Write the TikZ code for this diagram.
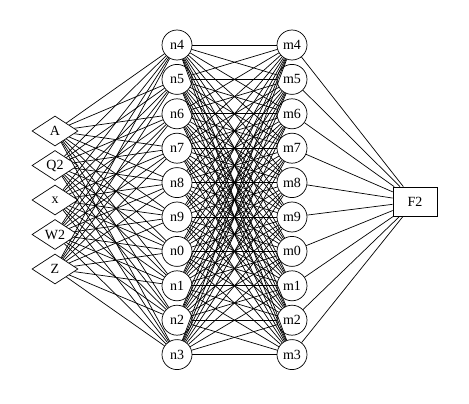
\documentclass[tikz,border=0pt]{standalone}
\usepackage{fontspec}
\setmainfont{Liberation Serif}
\usetikzlibrary{shapes.geometric}

\begin{document}
\begin{tikzpicture}[x=1pt,y=-1pt,line width=0.7pt,
		every node/.style={font=\fontsize{14}{16}\selectfont},
		unit/.style={draw, circle, minimum size=30pt, inner sep=0pt},
		inp/.style={draw, diamond, aspect=1.5, minimum width=46pt, minimum height=30pt, inner sep=0pt},
		outp/.style={draw, rectangle, minimum width=44pt, minimum height=29pt, inner sep=0pt}]
		\useasboundingbox (0,0) rectangle (469,404);
		% input layer
		\foreach \lab [count=\k from 0] in {A,Q2,x,W2,Z}
			\node[inp] (in\k) at (55,131+34.5*\k) {\lab};
		% hidden layers
		\foreach \lab [count=\k from 0] in {4,5,6,7,8,9,0,1,2,3} {
			\node[unit] (n\k) at (177,45+34.4*\k) {n\lab};
			\node[unit] (m\k) at (292,45+34.4*\k) {m\lab};
		}
		% output
		\node[outp] (F2) at (415,201.5) {F2};
		% connections
		\foreach \i in {0,...,4}
			\foreach \j in {0,...,9}
				\draw (in\i) -- (n\j);
		\foreach \i in {0,...,9} {
			\foreach \j in {0,...,9}
				\draw (n\i) -- (m\j);
			\draw (m\i) -- (F2);
		}
	\end{tikzpicture}
\end{document}
